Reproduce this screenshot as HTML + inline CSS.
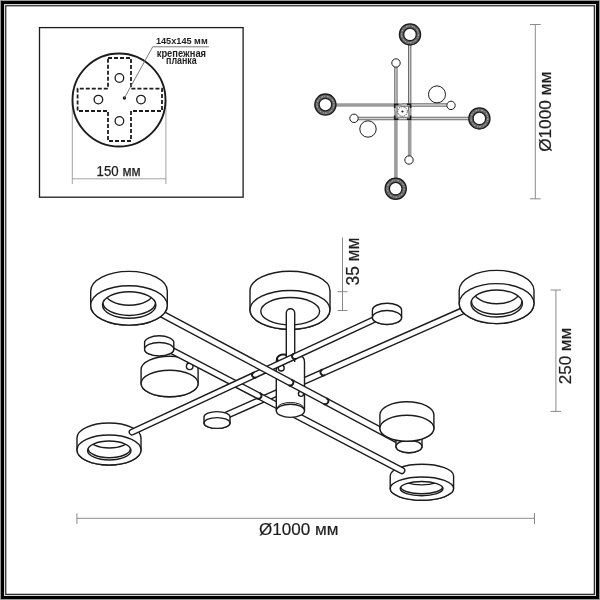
<!DOCTYPE html>
<html><head><meta charset="utf-8"><style>
html,body{margin:0;padding:0;background:#fff;}
svg{display:block;font-family:"Liberation Sans",sans-serif;will-change:transform;}
</style></head><body>
<svg width="600" height="600" viewBox="0 0 600 600">
<rect width="600" height="600" fill="#fff"/>
<rect x="0.5" y="0.5" width="599" height="599" fill="none" stroke="#9a9a9a" stroke-width="1"/>
<rect x="2.5" y="2.5" width="595" height="595" fill="none" stroke="#000" stroke-width="3"/>
<rect x="4.5" y="4.5" width="591" height="591" fill="none" stroke="#d0d0d0" stroke-width="0.8"/>
<rect x="5.75" y="5.75" width="588.6" height="588.6" fill="none" stroke="#222" stroke-width="1.2"/>
<rect x="39.5" y="27.6" width="203.6" height="169.6" fill="none" stroke="#1c1c1c" stroke-width="1.3"/>
<path d="M72.3,100 V184 M165.9,100 V184 M72.3,178.8 H165.9" stroke="#8a8a8a" stroke-width="0.8" fill="none"/>
<circle cx="119" cy="100" r="46.5" fill="#fff" stroke="#1c1c1c" stroke-width="1.9"/>
<path d="M108,58 H131 V88.6 H162 V111 H131 V141 H108 V111 H77.6 V88.6 H108 Z" fill="none" stroke="#1c1c1c" stroke-width="1.8" stroke-dasharray="4 2"/>
<circle cx="119.4" cy="78" r="4.3" fill="none" stroke="#1c1c1c" stroke-width="1.3"/>
<circle cx="98.4" cy="99.6" r="4.3" fill="none" stroke="#1c1c1c" stroke-width="1.3"/>
<circle cx="141" cy="99.6" r="4.3" fill="none" stroke="#1c1c1c" stroke-width="1.3"/>
<circle cx="119.4" cy="121" r="4.3" fill="none" stroke="#1c1c1c" stroke-width="1.3"/>
<circle cx="124.4" cy="98" r="1.7" fill="#1c1c1c"/>
<path d="M124.4,98 L152.7,46.8 H208.9" stroke="#6a6a6a" stroke-width="0.9" fill="none"/>
<text x="181.8" y="44.2" font-size="9.9" text-anchor="middle" fill="#1e1e1e" textLength="51.8" lengthAdjust="spacingAndGlyphs" font-weight="bold">145x145 мм</text>
<text x="181.4" y="57.1" font-size="10" text-anchor="middle" fill="#1e1e1e" textLength="49.4" lengthAdjust="spacingAndGlyphs" font-weight="bold">крепежная</text>
<text x="181.4" y="63.8" font-size="10" text-anchor="middle" fill="#1e1e1e" textLength="30.7" lengthAdjust="spacingAndGlyphs" font-weight="bold">планка</text>
<text x="118.6" y="176.3" font-size="13.8" text-anchor="middle" fill="#1e1e1e" textLength="44" lengthAdjust="spacingAndGlyphs" stroke="#1e1e1e" stroke-width="0.25">150 мм</text>
<line x1="409.7" y1="44" x2="409.7" y2="111" stroke="#6c6c6c" stroke-width="3.4"/>
<line x1="409.7" y1="44" x2="409.7" y2="111" stroke="#d6d6d6" stroke-width="1.3"/>
<line x1="409.7" y1="111" x2="409.7" y2="156" stroke="#9c9c9c" stroke-width="3.6"/>
<line x1="395.9" y1="67" x2="395.9" y2="111" stroke="#6c6c6c" stroke-width="3.4"/>
<line x1="395.9" y1="67" x2="395.9" y2="111" stroke="#d6d6d6" stroke-width="1.3"/>
<line x1="395.9" y1="111" x2="395.9" y2="178" stroke="#9c9c9c" stroke-width="3.6"/>
<line x1="335" y1="105" x2="402" y2="105" stroke="#9c9c9c" stroke-width="3.6"/>
<line x1="402" y1="105" x2="447" y2="105" stroke="#6c6c6c" stroke-width="3.4"/>
<line x1="402" y1="105" x2="447" y2="105" stroke="#d6d6d6" stroke-width="1.3"/>
<line x1="358" y1="118.5" x2="402" y2="118.5" stroke="#6c6c6c" stroke-width="3.4"/>
<line x1="358" y1="118.5" x2="402" y2="118.5" stroke="#d6d6d6" stroke-width="1.3"/>
<line x1="402" y1="118.5" x2="469" y2="118.5" stroke="#6c6c6c" stroke-width="3.4"/>
<line x1="402" y1="118.5" x2="469" y2="118.5" stroke="#d6d6d6" stroke-width="1.3"/>
<path d="M394.7,108 V104.4 H398.4 M406.9,104.4 H410.6 V108 M410.6,115.4 V119.1 H406.9 M398.4,119.1 H394.7 V115.4" fill="none" stroke="#1c1c1c" stroke-width="1.6"/>
<circle cx="402.5" cy="111.5" r="4.8" fill="#fff" stroke="#333" stroke-width="0.9" stroke-dasharray="1.4 0.9"/>
<circle cx="402.5" cy="111.5" r="1.1" fill="#1c1c1c"/>
<circle cx="396" cy="63" r="4.2" fill="#fff" stroke="#1c1c1c" stroke-width="1"/>
<circle cx="409" cy="160" r="4.2" fill="#fff" stroke="#1c1c1c" stroke-width="1"/>
<circle cx="451" cy="105.4" r="4.2" fill="#fff" stroke="#1c1c1c" stroke-width="1"/>
<circle cx="354" cy="118.3" r="4.2" fill="#fff" stroke="#1c1c1c" stroke-width="1"/>
<circle cx="437" cy="94.4" r="8.5" fill="#fff" stroke="#1c1c1c" stroke-width="1"/>
<circle cx="368" cy="129" r="8.2" fill="#fff" stroke="#1c1c1c" stroke-width="1"/>
<circle cx="410" cy="34.4" r="8.45" fill="none" stroke="#666" stroke-width="4.30"/>
<circle cx="410" cy="34.4" r="8.45" fill="none" stroke="#c8c8c8" stroke-width="0.9" stroke-dasharray="1.6 1.3 0.8 2.2"/>
<circle cx="410" cy="34.4" r="10.6" fill="none" stroke="#1c1c1c" stroke-width="1.3"/>
<circle cx="410" cy="34.4" r="6.3" fill="#fff" stroke="#1c1c1c" stroke-width="1.3"/>
<circle cx="325.4" cy="104.6" r="8.45" fill="none" stroke="#666" stroke-width="4.30"/>
<circle cx="325.4" cy="104.6" r="8.45" fill="none" stroke="#c8c8c8" stroke-width="0.9" stroke-dasharray="1.6 1.3 0.8 2.2"/>
<circle cx="325.4" cy="104.6" r="10.6" fill="none" stroke="#1c1c1c" stroke-width="1.3"/>
<circle cx="325.4" cy="104.6" r="6.3" fill="#fff" stroke="#1c1c1c" stroke-width="1.3"/>
<circle cx="479.4" cy="118.4" r="8.45" fill="none" stroke="#666" stroke-width="4.30"/>
<circle cx="479.4" cy="118.4" r="8.45" fill="none" stroke="#c8c8c8" stroke-width="0.9" stroke-dasharray="1.6 1.3 0.8 2.2"/>
<circle cx="479.4" cy="118.4" r="10.6" fill="none" stroke="#1c1c1c" stroke-width="1.3"/>
<circle cx="479.4" cy="118.4" r="6.3" fill="#fff" stroke="#1c1c1c" stroke-width="1.3"/>
<circle cx="395.7" cy="188.7" r="8.45" fill="none" stroke="#666" stroke-width="4.30"/>
<circle cx="395.7" cy="188.7" r="8.45" fill="none" stroke="#c8c8c8" stroke-width="0.9" stroke-dasharray="1.6 1.3 0.8 2.2"/>
<circle cx="395.7" cy="188.7" r="10.6" fill="none" stroke="#1c1c1c" stroke-width="1.3"/>
<circle cx="395.7" cy="188.7" r="6.3" fill="#fff" stroke="#1c1c1c" stroke-width="1.3"/>
<path d="M535.3,24.5 V198.8 M530,24.5 H540.7 M530,198.8 H540.7" stroke="#8a8a8a" stroke-width="1" fill="none"/>
<text x="551.3" y="111.8" font-size="17" text-anchor="middle" fill="#1e1e1e" transform="rotate(-90 551.3 111.8)" textLength="80" lengthAdjust="spacingAndGlyphs" stroke="#1e1e1e" stroke-width="0.2">Ø1000 мм</text>
<path d="M342.5,237.5 V310.5 M337.5,291.7 H347.5 M337.5,310.5 H347.5" stroke="#8a8a8a" stroke-width="1" fill="none"/>
<text x="358.6" y="261.5" font-size="17.5" text-anchor="middle" fill="#1e1e1e" transform="rotate(-90 358.6 261.5)" textLength="48" lengthAdjust="spacingAndGlyphs" stroke="#1e1e1e" stroke-width="0.2">35 мм</text>
<path d="M555.9,290 V411.4 M550.5,290 H561 M550.5,411.4 H561" stroke="#8a8a8a" stroke-width="1" fill="none"/>
<text x="571.3" y="356" font-size="17" text-anchor="middle" fill="#1e1e1e" transform="rotate(-90 571.3 356)" textLength="56.5" lengthAdjust="spacingAndGlyphs" stroke="#1e1e1e" stroke-width="0.2">250 мм</text>
<path d="M76.9,518.3 H534.5 M76.9,513.3 V524 M534.5,513 V524" stroke="#8a8a8a" stroke-width="1" fill="none"/>
<text x="298.7" y="534.6" font-size="17" text-anchor="middle" fill="#1e1e1e" textLength="79.4" lengthAdjust="spacingAndGlyphs" stroke="#1e1e1e" stroke-width="0.2">Ø1000 мм</text>
<path d="M250.00,309.85 L250.00,290.65 A40.00,19.35 0 0 1 330.00,290.65 L330.00,309.85 A40.00,19.35 0 0 1 250.00,309.85 Z" fill="#fff" stroke="#1c1c1c" stroke-width="1.4"/>
<ellipse cx="290.00" cy="309.85" rx="40.00" ry="19.35" fill="#fff" stroke="#1c1c1c" stroke-width="1.4"/>
<ellipse cx="290.2" cy="311.25" rx="29.4" ry="13.75" fill="none" stroke="#1c1c1c" stroke-width="1.4"/>
<path d="M141.10,383.50 L141.10,369.50 A28.50,13.30 0 0 1 198.10,369.50 L198.10,383.50 A28.50,13.30 0 0 1 141.10,383.50 Z" fill="#fff" stroke="#1c1c1c" stroke-width="1.4"/>
<ellipse cx="169.60" cy="383.50" rx="28.50" ry="13.30" fill="#fff" stroke="#1c1c1c" stroke-width="1.4"/>
<circle cx="189.7" cy="366.3" r="3.3" fill="#fff" stroke="#1c1c1c" stroke-width="1.4"/>
<path d="M390.20,488.60 L390.20,475.80 A31.70,11.60 0 0 1 453.60,475.80 L453.60,488.60 A31.70,11.60 0 0 1 390.20,488.60 Z" fill="#fff" stroke="#1c1c1c" stroke-width="1.4"/>
<ellipse cx="421.90" cy="488.60" rx="31.70" ry="11.60" fill="#fff" stroke="#1c1c1c" stroke-width="1.4"/>
<ellipse cx="421.60" cy="488.60" rx="21.40" ry="7.10" fill="#fff" stroke="#1c1c1c" stroke-width="1.4"/>
<clipPath id="rbr"><ellipse cx="421.60" cy="488.60" rx="21.40" ry="7.10"/></clipPath>
<g clip-path="url(#rbr)" fill="none" stroke="#1c1c1c" stroke-width="1.4"><path d="M401.60,478.10 A20.00,6.80 0 0 0 441.60,478.10"/><path d="M400.60,486.80 A21.00,7.00 0 0 0 442.60,486.80"/></g>
<path d="M77.00,450.00 L77.00,438.00 A32.00,15.00 0 0 1 141.00,438.00 L141.00,450.00 A32.00,15.00 0 0 1 77.00,450.00 Z" fill="#fff" stroke="#1c1c1c" stroke-width="1.4"/>
<ellipse cx="109.00" cy="450.00" rx="32.00" ry="15.00" fill="#fff" stroke="#1c1c1c" stroke-width="1.4"/>
<ellipse cx="109.30" cy="450.50" rx="21.70" ry="9.50" fill="#fff" stroke="#1c1c1c" stroke-width="1.4"/>
<clipPath id="rbl"><ellipse cx="109.30" cy="450.50" rx="21.70" ry="9.50"/></clipPath>
<g clip-path="url(#rbl)" fill="none" stroke="#1c1c1c" stroke-width="1.4"><path d="M89.30,439.20 A20.00,8.80 0 0 0 129.30,439.20"/><path d="M88.10,448.50 A21.20,9.20 0 0 0 130.50,448.50"/></g>
<line x1="226" y1="415.49" x2="465" y2="309.85" stroke="#1c1c1c" stroke-width="7.62" stroke-linecap="butt"/>
<line x1="226" y1="415.49" x2="465" y2="309.85" stroke="#fff" stroke-width="4.82" stroke-linecap="butt"/>
<line x1="172" y1="350.62" x2="401.7" y2="470.53" stroke="#1c1c1c" stroke-width="7.43" stroke-linecap="round"/>
<line x1="172" y1="350.62" x2="401.7" y2="470.53" stroke="#fff" stroke-width="4.63" stroke-linecap="round"/>
<path d="M256.91,398.34 A3.01,2.71 0 0 0 259.69,393.00" fill="none" stroke="#1c1c1c" stroke-width="2"/>
<path d="M276.3,410.5 V362 Q276.3,356 282,356 H299 Q304.5,356 304.5,362 V410.5" fill="#fff" stroke="#1c1c1c" stroke-width="1.4"/>
<ellipse cx="290.4" cy="410.8" rx="14.1" ry="6.6" fill="#fff" stroke="#1c1c1c" stroke-width="1.4"/>
<path d="M277.5,408 A13,5.5 0 0 1 303.5,408" fill="none" stroke="#1c1c1c" stroke-width="1"/>
<ellipse cx="283.6" cy="358.6" rx="6.6" ry="4" fill="#fff" stroke="#1c1c1c" stroke-width="2"/>
<path d="M286.3,362 V312.9 A4.2,4.2 0 0 1 294.7,312.9 V362" fill="#fff" stroke="#1c1c1c" stroke-width="1.4"/>
<circle cx="281.2" cy="368" r="3" fill="#fff" stroke="#1c1c1c" stroke-width="1.4"/>
<circle cx="301" cy="393.8" r="2.6" fill="#fff" stroke="#1c1c1c" stroke-width="1.4"/>
<line x1="132" y1="432.07" x2="372.4" y2="320.28" stroke="#1c1c1c" stroke-width="6.93" stroke-linecap="round"/>
<line x1="132" y1="432.07" x2="372.4" y2="320.28" stroke="#fff" stroke-width="4.13" stroke-linecap="round"/>
<path d="M256.17,377.38 A2.77,2.49 0 0 1 253.83,372.37" fill="none" stroke="#1c1c1c" stroke-width="2"/>
<path d="M296.17,358.78 A2.77,2.49 0 0 1 293.83,353.77" fill="none" stroke="#1c1c1c" stroke-width="2"/>
<path d="M325.06,375.10 A3.11,2.80 0 0 1 322.54,369.42" fill="none" stroke="#1c1c1c" stroke-width="2"/>
<line x1="162" y1="314.07" x2="400" y2="441.04" stroke="#1c1c1c" stroke-width="7.75" stroke-linecap="butt"/>
<line x1="162" y1="314.07" x2="400" y2="441.04" stroke="#fff" stroke-width="4.95" stroke-linecap="butt"/>
<path d="M288.50,385.16 A3.18,2.86 0 0 0 291.50,379.56" fill="none" stroke="#1c1c1c" stroke-width="2"/>
<path d="M323.50,403.83 A3.18,2.86 0 0 0 326.50,398.23" fill="none" stroke="#1c1c1c" stroke-width="2"/>
<path d="M90.70,305.40 L90.70,291.10 A38.30,19.70 0 0 1 167.30,291.10 L167.30,305.40 A38.30,19.70 0 0 1 90.70,305.40 Z" fill="#fff" stroke="#1c1c1c" stroke-width="1.4"/>
<ellipse cx="129.00" cy="305.40" rx="38.30" ry="19.70" fill="#fff" stroke="#1c1c1c" stroke-width="1.4"/>
<ellipse cx="129.20" cy="305.00" rx="26.70" ry="13.30" fill="#fff" stroke="#1c1c1c" stroke-width="1.4"/>
<clipPath id="rtl"><ellipse cx="129.20" cy="305.00" rx="26.70" ry="13.30"/></clipPath>
<g clip-path="url(#rtl)" fill="none" stroke="#1c1c1c" stroke-width="1.4"><path d="M104.70,292.00 A24.50,13.30 0 0 0 153.70,292.00"/><path d="M103.00,302.70 A26.20,12.80 0 0 0 155.40,302.70"/></g>
<path d="M459.20,303.60 L459.20,290.40 A37.40,20.00 0 0 1 534.00,290.40 L534.00,303.60 A37.40,20.00 0 0 1 459.20,303.60 Z" fill="#fff" stroke="#1c1c1c" stroke-width="1.4"/>
<ellipse cx="496.60" cy="303.60" rx="37.40" ry="20.00" fill="#fff" stroke="#1c1c1c" stroke-width="1.4"/>
<ellipse cx="496.70" cy="303.50" rx="25.70" ry="13.50" fill="#fff" stroke="#1c1c1c" stroke-width="1.4"/>
<clipPath id="rtr"><ellipse cx="496.70" cy="303.50" rx="25.70" ry="13.50"/></clipPath>
<g clip-path="url(#rtr)" fill="none" stroke="#1c1c1c" stroke-width="1.4"><path d="M473.20,290.50 A23.50,13.30 0 0 0 520.20,290.50"/><path d="M471.50,301.20 A25.20,13.00 0 0 0 521.90,301.20"/></g>
<path d="M144.60,349.20 L144.60,342.50 A14.60,6.70 0 0 1 173.80,342.50 L173.80,349.20 A14.60,6.70 0 0 1 144.60,349.20 Z" fill="#fff" stroke="#1c1c1c" stroke-width="1.4"/>
<ellipse cx="159.20" cy="349.20" rx="14.60" ry="6.70" fill="#fff" stroke="#1c1c1c" stroke-width="1.4"/>
<path d="M372.40,317.50 L372.40,310.20 A14.60,7.00 0 0 1 401.60,310.20 L401.60,317.50 A14.60,7.00 0 0 1 372.40,317.50 Z" fill="#fff" stroke="#1c1c1c" stroke-width="1.4"/>
<ellipse cx="387.00" cy="317.50" rx="14.60" ry="7.00" fill="#fff" stroke="#1c1c1c" stroke-width="1.4"/>
<path d="M204.00,423.00 L204.00,417.00 A13.00,5.40 0 0 1 230.00,417.00 L230.00,423.00 A13.00,5.40 0 0 1 204.00,423.00 Z" fill="#fff" stroke="#1c1c1c" stroke-width="1.4"/>
<ellipse cx="217.00" cy="423.00" rx="13.00" ry="5.40" fill="#fff" stroke="#1c1c1c" stroke-width="1.4"/>
<path d="M396.00,446.50 L396.00,440.00 A13.00,6.20 0 0 1 422.00,440.00 L422.00,446.50 A13.00,6.20 0 0 1 396.00,446.50 Z" fill="#fff" stroke="#1c1c1c" stroke-width="1.4"/>
<ellipse cx="409.00" cy="446.50" rx="13.00" ry="6.20" fill="#fff" stroke="#1c1c1c" stroke-width="1.4"/>
<path d="M379.90,428.30 L379.90,414.70 A27.00,13.00 0 0 1 433.90,414.70 L433.90,428.30 A27.00,13.00 0 0 1 379.90,428.30 Z" fill="#fff" stroke="#1c1c1c" stroke-width="1.4"/>
<ellipse cx="406.90" cy="428.30" rx="27.00" ry="13.00" fill="#fff" stroke="#1c1c1c" stroke-width="1.4"/>
</svg></body></html>
